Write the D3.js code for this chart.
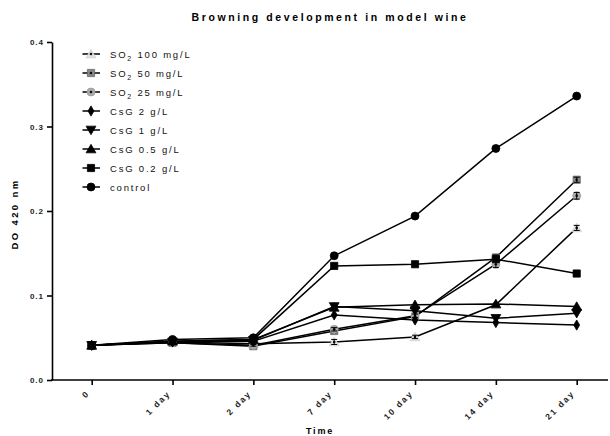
<!DOCTYPE html>
<html>
<head>
<meta charset="utf-8">
<script src="https://cdn.jsdelivr.net/npm/d3@7"></script>
<style>
  body { margin: 0; background: #fff; }
  svg { display: block; font-family: Arial, "Liberation Sans", sans-serif; }
</style>
</head>
<body>
<div id="chart"></div>
<script>
// categories and values
const days = ["0", "1 day", "2 day", "7 day", "10 day", "14 day", "21 day"];
const yTicks = [0, 0.1, 0.2, 0.3, 0.4];

const so2_100 = [0.041, 0.045, 0.043, 0.045, 0.051, 0.089, 0.180];
const so2_50  = [0.041, 0.044, 0.040, 0.058, 0.075, 0.145, 0.237];
const so2_25  = [0.041, 0.044, 0.041, 0.060, 0.076, 0.137, 0.218];
const csg2    = [0.041, 0.045, 0.046, 0.077, 0.071, 0.068, 0.065];
const csg1    = [0.041, 0.045, 0.047, 0.087, 0.082, 0.073, 0.079];
const csg05   = [0.041, 0.046, 0.048, 0.086, 0.089, 0.090, 0.087];
const csg02   = [0.041, 0.046, 0.048, 0.135, 0.137, 0.143, 0.126];
const control = [0.041, 0.048, 0.050, 0.147, 0.194, 0.274, 0.336];

// small SD bars visible on the SO2 series
const so2_100_err = [0, 0.001, 0.001, 0.003, 0.002, 0.002, 0.003];
const so2_50_err  = [0, 0.001, 0.001, 0.002, 0.002, 0.003, 0.003];
const so2_25_err  = [0, 0.001, 0.001, 0.002, 0.002, 0.004, 0.004];

const series = [
  { name: "SO2 100", label: ["SO", "2", " 100 mg/L"], values: so2_100, err: so2_100_err, shape: "triangle", fill: "#e2e2e2", stroke: "#d0d0d0" },
  { name: "SO2 50",  label: ["SO", "2", " 50 mg/L"],  values: so2_50,  err: so2_50_err,  shape: "square",   fill: "#888",    stroke: "#666" },
  { name: "SO2 25",  label: ["SO", "2", " 25 mg/L"],  values: so2_25,  err: so2_25_err,  shape: "circle",   fill: "#aaa",    stroke: "#999" },
  { name: "CsG 2",   label: ["CsG 2 g/L"],   values: csg2,    shape: "diamond",  fill: "#000", stroke: "#000" },
  { name: "CsG 1",   label: ["CsG 1 g/L"],   values: csg1,    shape: "down",     fill: "#000", stroke: "#000" },
  { name: "CsG 0.5", label: ["CsG 0.5 g/L"], values: csg05,   shape: "triangle", fill: "#000", stroke: "#000" },
  { name: "CsG 0.2", label: ["CsG 0.2 g/L"], values: csg02,   shape: "square",   fill: "#000", stroke: "#000" },
  { name: "control", label: ["control"],     values: control, shape: "circle",   fill: "#000", stroke: "#000" }
];

const width = 610, height = 436;

const svg = d3.select("#chart").append("svg")
  .attr("width", width)
  .attr("height", height);

const x = d3.scalePoint()
  .domain(days)
  .range([91.7, 576.7]);

const y = d3.scaleLinear()
  .domain([0, 0.4])
  .range([380, 42]);

// symbol path generators
function symbolPath(shape) {
  if (shape === "triangle") return d3.symbol().type(d3.symbolTriangle).size(42)();
  if (shape === "down") return d3.symbol().type(d3.symbolTriangle).size(42)();
  if (shape === "square") return d3.symbol().type(d3.symbolSquare).size(52)();
  if (shape === "diamond") return d3.symbol().type(d3.symbolDiamond).size(30)();
  return d3.symbol().type(d3.symbolCircle).size(50)();
}

function drawMarker(g, s, cx, cy) {
  const m = g.append("path")
    .attr("d", symbolPath(s.shape))
    .attr("fill", s.fill)
    .attr("stroke", s.stroke)
    .attr("stroke-width", 0.8);
  const rot = s.shape === "down" ? " rotate(180)" : "";
  const dy = s.shape === "triangle" ? 1 : s.shape === "down" ? -1 : 0;
  m.attr("transform", `translate(${cx},${cy + dy})${rot}`);
  if (s.name.startsWith("SO2")) {
    // dark centre, as in the reference
    g.append("circle").attr("cx", cx).attr("cy", cy).attr("r", 1.3).attr("fill", "#111");
  }
}

// axes
const yAxis = svg.append("g")
  .attr("transform", "translate(52,0)")
  .call(d3.axisLeft(y).tickValues(yTicks).tickFormat(d3.format(".1f")).tickSize(5).tickSizeOuter(0));

const xAxis = svg.append("g")
  .attr("transform", "translate(0,380)")
  .call(d3.axisBottom(x).tickSize(5).tickSizeOuter(0));

xAxis.select(".domain").attr("d", "M51,0H608");

[yAxis, xAxis].forEach(a => {
  a.selectAll("path, line").attr("stroke", "#000").attr("stroke-width", 1.6);
  a.selectAll("text")
    .attr("fill", "#222")
    .style("font-size", "8px")
    .style("font-weight", "bold")
    .style("letter-spacing", "1px");
});

yAxis.selectAll("text").attr("x", -8);

xAxis.selectAll("text")
  .style("font-size", "8.5px")
  .style("letter-spacing", "1.8px")
  .attr("text-anchor", "end")
  .attr("dy", null)
  .attr("y", 0)
  .attr("transform", "translate(-2,14) rotate(-45)");

// axis titles
svg.append("text")
  .attr("x", 330).attr("y", 21)
  .attr("text-anchor", "middle")
  .style("font-size", "10.5px")
  .style("font-weight", "bold")
  .style("letter-spacing", "2.6px")
  .text("Browning development in model wine");

svg.append("text")
  .attr("transform", "translate(18,214) rotate(-90)")
  .attr("text-anchor", "middle")
  .style("font-size", "9.5px")
  .style("font-weight", "bold")
  .style("letter-spacing", "2.4px")
  .text("DO 420 nm");

svg.append("text")
  .attr("x", 320).attr("y", 434)
  .attr("text-anchor", "middle")
  .style("font-size", "9px")
  .style("font-weight", "bold")
  .style("letter-spacing", "1.8px")
  .text("Time");

// lines
const line = d3.line()
  .x((d, i) => x(days[i]))
  .y(d => y(d));

const plot = svg.append("g");

series.forEach(s => {
  plot.append("path")
    .datum(s.values)
    .attr("d", line)
    .attr("fill", "none")
    .attr("stroke", "#000")
    .attr("stroke-width", 1.5);
});

// markers + error bars
series.forEach(s => {
  const g = plot.append("g");
  s.values.forEach((v, i) => {
    const cx = x(days[i]);
    drawMarker(g, s, cx, y(v));
    if (s.err && s.err[i] > 0) {
      const e = s.err[i];
      g.append("path")
        .attr("d", `M${cx},${y(v - e)}V${y(v + e)}M${cx - 3},${y(v + e)}H${cx + 3}M${cx - 3},${y(v - e)}H${cx + 3}`)
        .attr("stroke", "#000")
        .attr("stroke-width", 1)
        .attr("fill", "none");
    }
  });
});

// legend
const legend = svg.append("g");
series.forEach((s, i) => {
  const ly = 54 + i * 19;
  const g = legend.append("g");
  g.append("line")
    .attr("x1", 82.5).attr("x2", 100)
    .attr("y1", ly).attr("y2", ly)
    .attr("stroke", "#000").attr("stroke-width", 1.5);
  drawMarker(g, s, 91, ly);
  const t = g.append("text")
    .attr("x", 110).attr("y", ly + 3.5)
    .style("font-size", "9.5px")
    .style("letter-spacing", "1.8px")
    .attr("fill", "#111");
  if (s.label.length === 3) {
    t.append("tspan").text(s.label[0]);
    t.append("tspan").attr("dy", 3).style("font-size", "7px").text(s.label[1]);
    t.append("tspan").attr("dy", -3).text(s.label[2]);
  } else {
    t.text(s.label[0]);
  }
});
</script>
</body>
</html>
